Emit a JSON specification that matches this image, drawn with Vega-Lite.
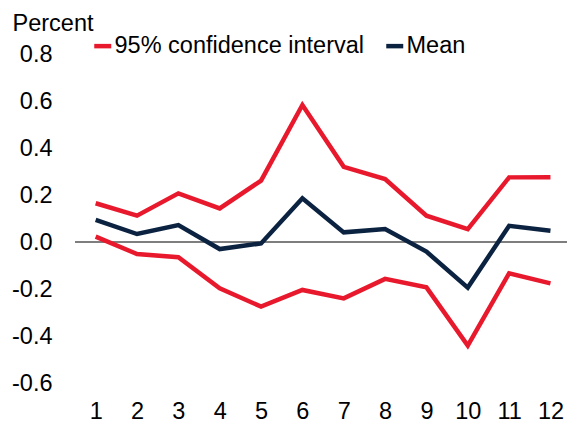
{
  "$schema": "https://vega.github.io/schema/vega-lite/v6.json",
  "width": 492,
  "height": 329,
  "autosize": "none",
  "padding": {"left": 75, "top": 54, "right": 0, "bottom": 43},
  "background": "white",
  "config": {
    "view": {"stroke": null},
    "font": "Liberation Sans",
    "axis": {"labelFont": "Liberation Sans", "titleFont": "Liberation Sans"},
    "legend": {"labelFont": "Liberation Sans"}
  },
  "data": {
    "values": [
      {"x": 1, "line": "upper", "series": "95% confidence interval", "value": 0.165},
      {"x": 2, "line": "upper", "series": "95% confidence interval", "value": 0.112},
      {"x": 3, "line": "upper", "series": "95% confidence interval", "value": 0.207},
      {"x": 4, "line": "upper", "series": "95% confidence interval", "value": 0.143},
      {"x": 5, "line": "upper", "series": "95% confidence interval", "value": 0.261},
      {"x": 6, "line": "upper", "series": "95% confidence interval", "value": 0.583},
      {"x": 7, "line": "upper", "series": "95% confidence interval", "value": 0.32},
      {"x": 8, "line": "upper", "series": "95% confidence interval", "value": 0.268},
      {"x": 9, "line": "upper", "series": "95% confidence interval", "value": 0.112},
      {"x": 10, "line": "upper", "series": "95% confidence interval", "value": 0.055},
      {"x": 11, "line": "upper", "series": "95% confidence interval", "value": 0.275},
      {"x": 12, "line": "upper", "series": "95% confidence interval", "value": 0.276},
      {"x": 1, "line": "lower", "series": "95% confidence interval", "value": 0.023},
      {"x": 2, "line": "lower", "series": "95% confidence interval", "value": -0.051},
      {"x": 3, "line": "lower", "series": "95% confidence interval", "value": -0.065},
      {"x": 4, "line": "lower", "series": "95% confidence interval", "value": -0.197},
      {"x": 5, "line": "lower", "series": "95% confidence interval", "value": -0.275},
      {"x": 6, "line": "lower", "series": "95% confidence interval", "value": -0.204},
      {"x": 7, "line": "lower", "series": "95% confidence interval", "value": -0.24},
      {"x": 8, "line": "lower", "series": "95% confidence interval", "value": -0.157},
      {"x": 9, "line": "lower", "series": "95% confidence interval", "value": -0.193},
      {"x": 10, "line": "lower", "series": "95% confidence interval", "value": -0.441},
      {"x": 11, "line": "lower", "series": "95% confidence interval", "value": -0.133},
      {"x": 12, "line": "lower", "series": "95% confidence interval", "value": -0.176},
      {"x": 1, "line": "mean", "series": "Mean", "value": 0.094},
      {"x": 2, "line": "mean", "series": "Mean", "value": 0.034},
      {"x": 3, "line": "mean", "series": "Mean", "value": 0.072},
      {"x": 4, "line": "mean", "series": "Mean", "value": -0.030},
      {"x": 5, "line": "mean", "series": "Mean", "value": -0.006},
      {"x": 6, "line": "mean", "series": "Mean", "value": 0.186},
      {"x": 7, "line": "mean", "series": "Mean", "value": 0.041},
      {"x": 8, "line": "mean", "series": "Mean", "value": 0.055},
      {"x": 9, "line": "mean", "series": "Mean", "value": -0.041},
      {"x": 10, "line": "mean", "series": "Mean", "value": -0.194},
      {"x": 11, "line": "mean", "series": "Mean", "value": 0.069},
      {"x": 12, "line": "mean", "series": "Mean", "value": 0.048}
    ]
  },
  "layer": [
    {
      "mark": {"type": "rule", "color": "#7f7f7f", "strokeWidth": 1},
      "encoding": {"y": {"datum": 0, "type": "quantitative"}}
    },
    {
      "mark": {"type": "line", "strokeWidth": 4.5, "strokeCap": "butt", "strokeJoin": "miter"},
      "encoding": {
        "x": {
          "field": "x",
          "type": "quantitative",
          "scale": {"domain": [0.5, 12.4], "nice": false, "zero": false},
          "axis": {
            "values": [1, 2, 3, 4, 5, 6, 7, 8, 9, 10, 11, 12],
            "grid": false,
            "domain": false,
            "ticks": false,
            "title": null,
            "labelFontSize": 23.5,
            "labelColor": "#000000",
            "labelPadding": 16,
            "labelFlush": false
          }
        },
        "y": {
          "field": "value",
          "type": "quantitative",
          "scale": {"domain": [-0.6, 0.8], "nice": false, "zero": false},
          "axis": {
            "values": [-0.6, -0.4, -0.2, 0, 0.2, 0.4, 0.6, 0.8],
            "labelExpr": "replace(format(datum.value, '.1f'), '−', '-')",
            "grid": false,
            "domain": false,
            "ticks": false,
            "labelFontSize": 23.5,
            "labelColor": "#000000",
            "labelPadding": 23,
            "title": "Percent",
            "titleAngle": 0,
            "titleAlign": "left",
            "titleBaseline": "alphabetic",
            "titleX": -63,
            "titleY": -24,
            "titleFontSize": 23.5,
            "titleFontWeight": "normal",
            "titleColor": "#000000"
          }
        },
        "color": {
          "field": "series",
          "type": "nominal",
          "scale": {"domain": ["95% confidence interval", "Mean"], "range": ["#E8192C", "#0B2341"]},
          "legend": {
            "orient": "none",
            "legendX": 16,
            "legendY": -20,
            "direction": "horizontal",
            "title": null,
            "padding": 0,
            "symbolType": "stroke",
            "symbolSize": 289,
            "symbolStrokeWidth": 4.5,
            "labelFontSize": 23.5,
            "labelColor": "#000000",
            "labelOffset": 0,
            "columnPadding": 12,
            "labelLimit": 400
          }
        },
        "detail": {"field": "line"}
      }
    }
  ]
}
